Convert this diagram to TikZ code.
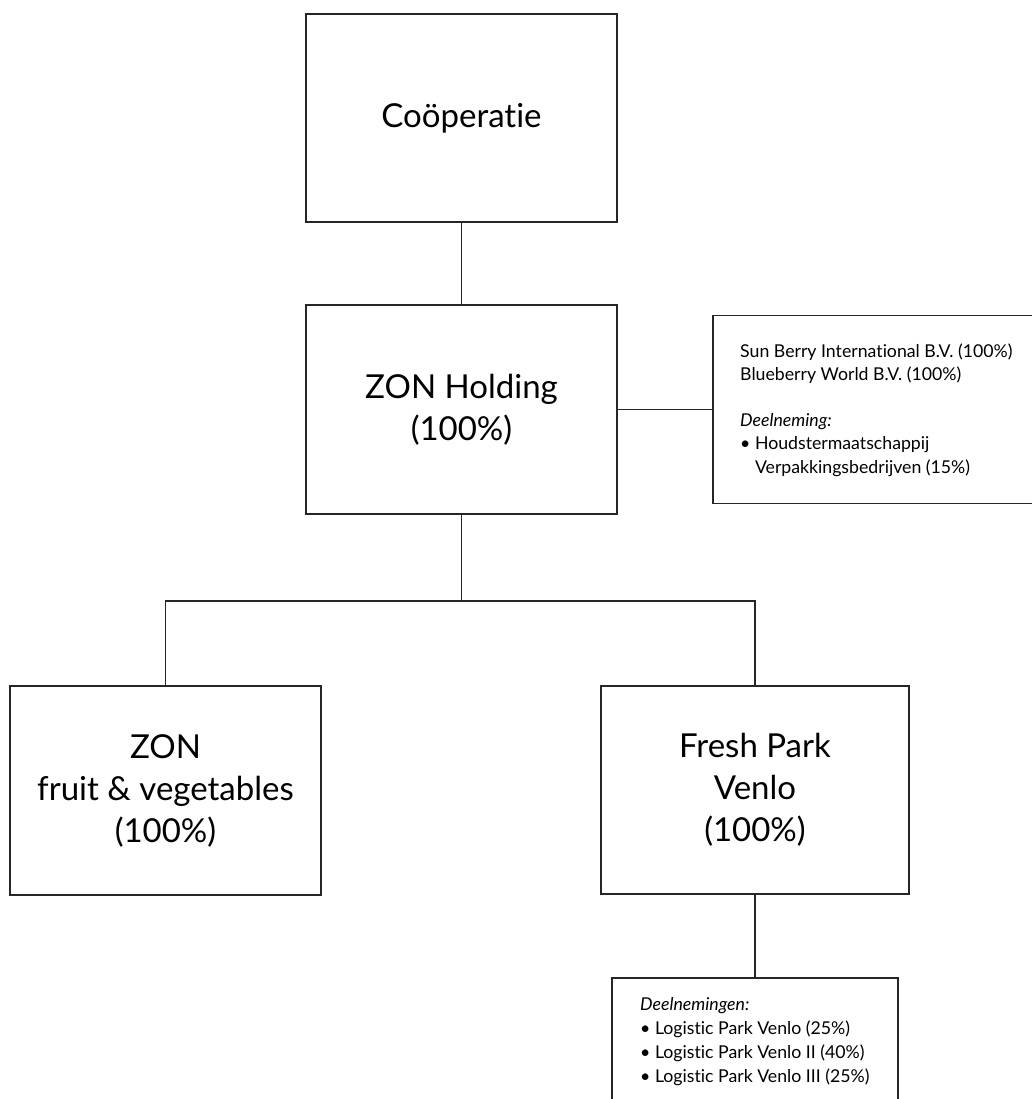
\documentclass[tikz,border=0pt]{standalone}
\usepackage{fontspec}
\setmainfont{Lato}[Ligatures={NoCommon,NoRare}]
\begin{document}
\begin{tikzpicture}[x=1pt,y=-1pt,
  box/.style={draw=black!85, line width=1.3pt, inner sep=0pt},
  big/.style={font=\fontsize{33}{42}\selectfont, align=center},
  small/.style={font=\fontsize{17.7}{23.5}\selectfont, align=left, inner sep=0pt},
  conn/.style={draw=black!85, line width=1.3pt}]
\useasboundingbox (0,0) rectangle (1032,1099);
\clip (0,0) rectangle (1032,1099);
\node[box, big, minimum width=311, minimum height=208] (coop) at (461.5,118) {\raisebox{-4pt}{Coöperatie}};
\node[box, big, minimum width=311, minimum height=209] (hold) at (461.5,409.5) {ZON Holding\\(100\%)};
\node[box, minimum width=332, minimum height=188] (side) at (879,409.5) {};
\node[small, anchor=west] (sidetext) at (740,410) {Sun Berry International B.V. (100\%)\\
Blueberry World B.V. (100\%)\\[22pt]
\textit{Deelneming:}\\
• Houdstermaatschappij\\
\hphantom{• }Verpakkingsbedrijven (15\%)};
\node[box, big, minimum width=311, minimum height=209] (left) at (165.5,790.5) {ZON\\fruit \& vegetables\\(100\%)};
\node[box, big, minimum width=308, minimum height=208] (fresh) at (755,790) {Fresh Park\\Venlo\\(100\%)};
\node[box, minimum width=286, minimum height=140] (part) at (755,1048) {};
\node[small, anchor=west, font=\fontsize{17.7}{24}\selectfont] (parttext) at (640,1042) {\textit{Deelnemingen:}\\
• Logistic Park Venlo (25\%)\\
• Logistic Park Venlo II (40\%)\\
• Logistic Park Venlo III (25\%)};
\coordinate (branch) at (461.5,601);
\draw[conn] (coop.south) -- (hold.north);
\draw[conn] (hold.east) -- (side.west);
\draw[conn] (hold.south) -- (branch);
\draw[conn] (left.north) |- (branch) -| (fresh.north);
\draw[conn] (fresh.south) -- (part.north);
\end{tikzpicture}
\end{document}
